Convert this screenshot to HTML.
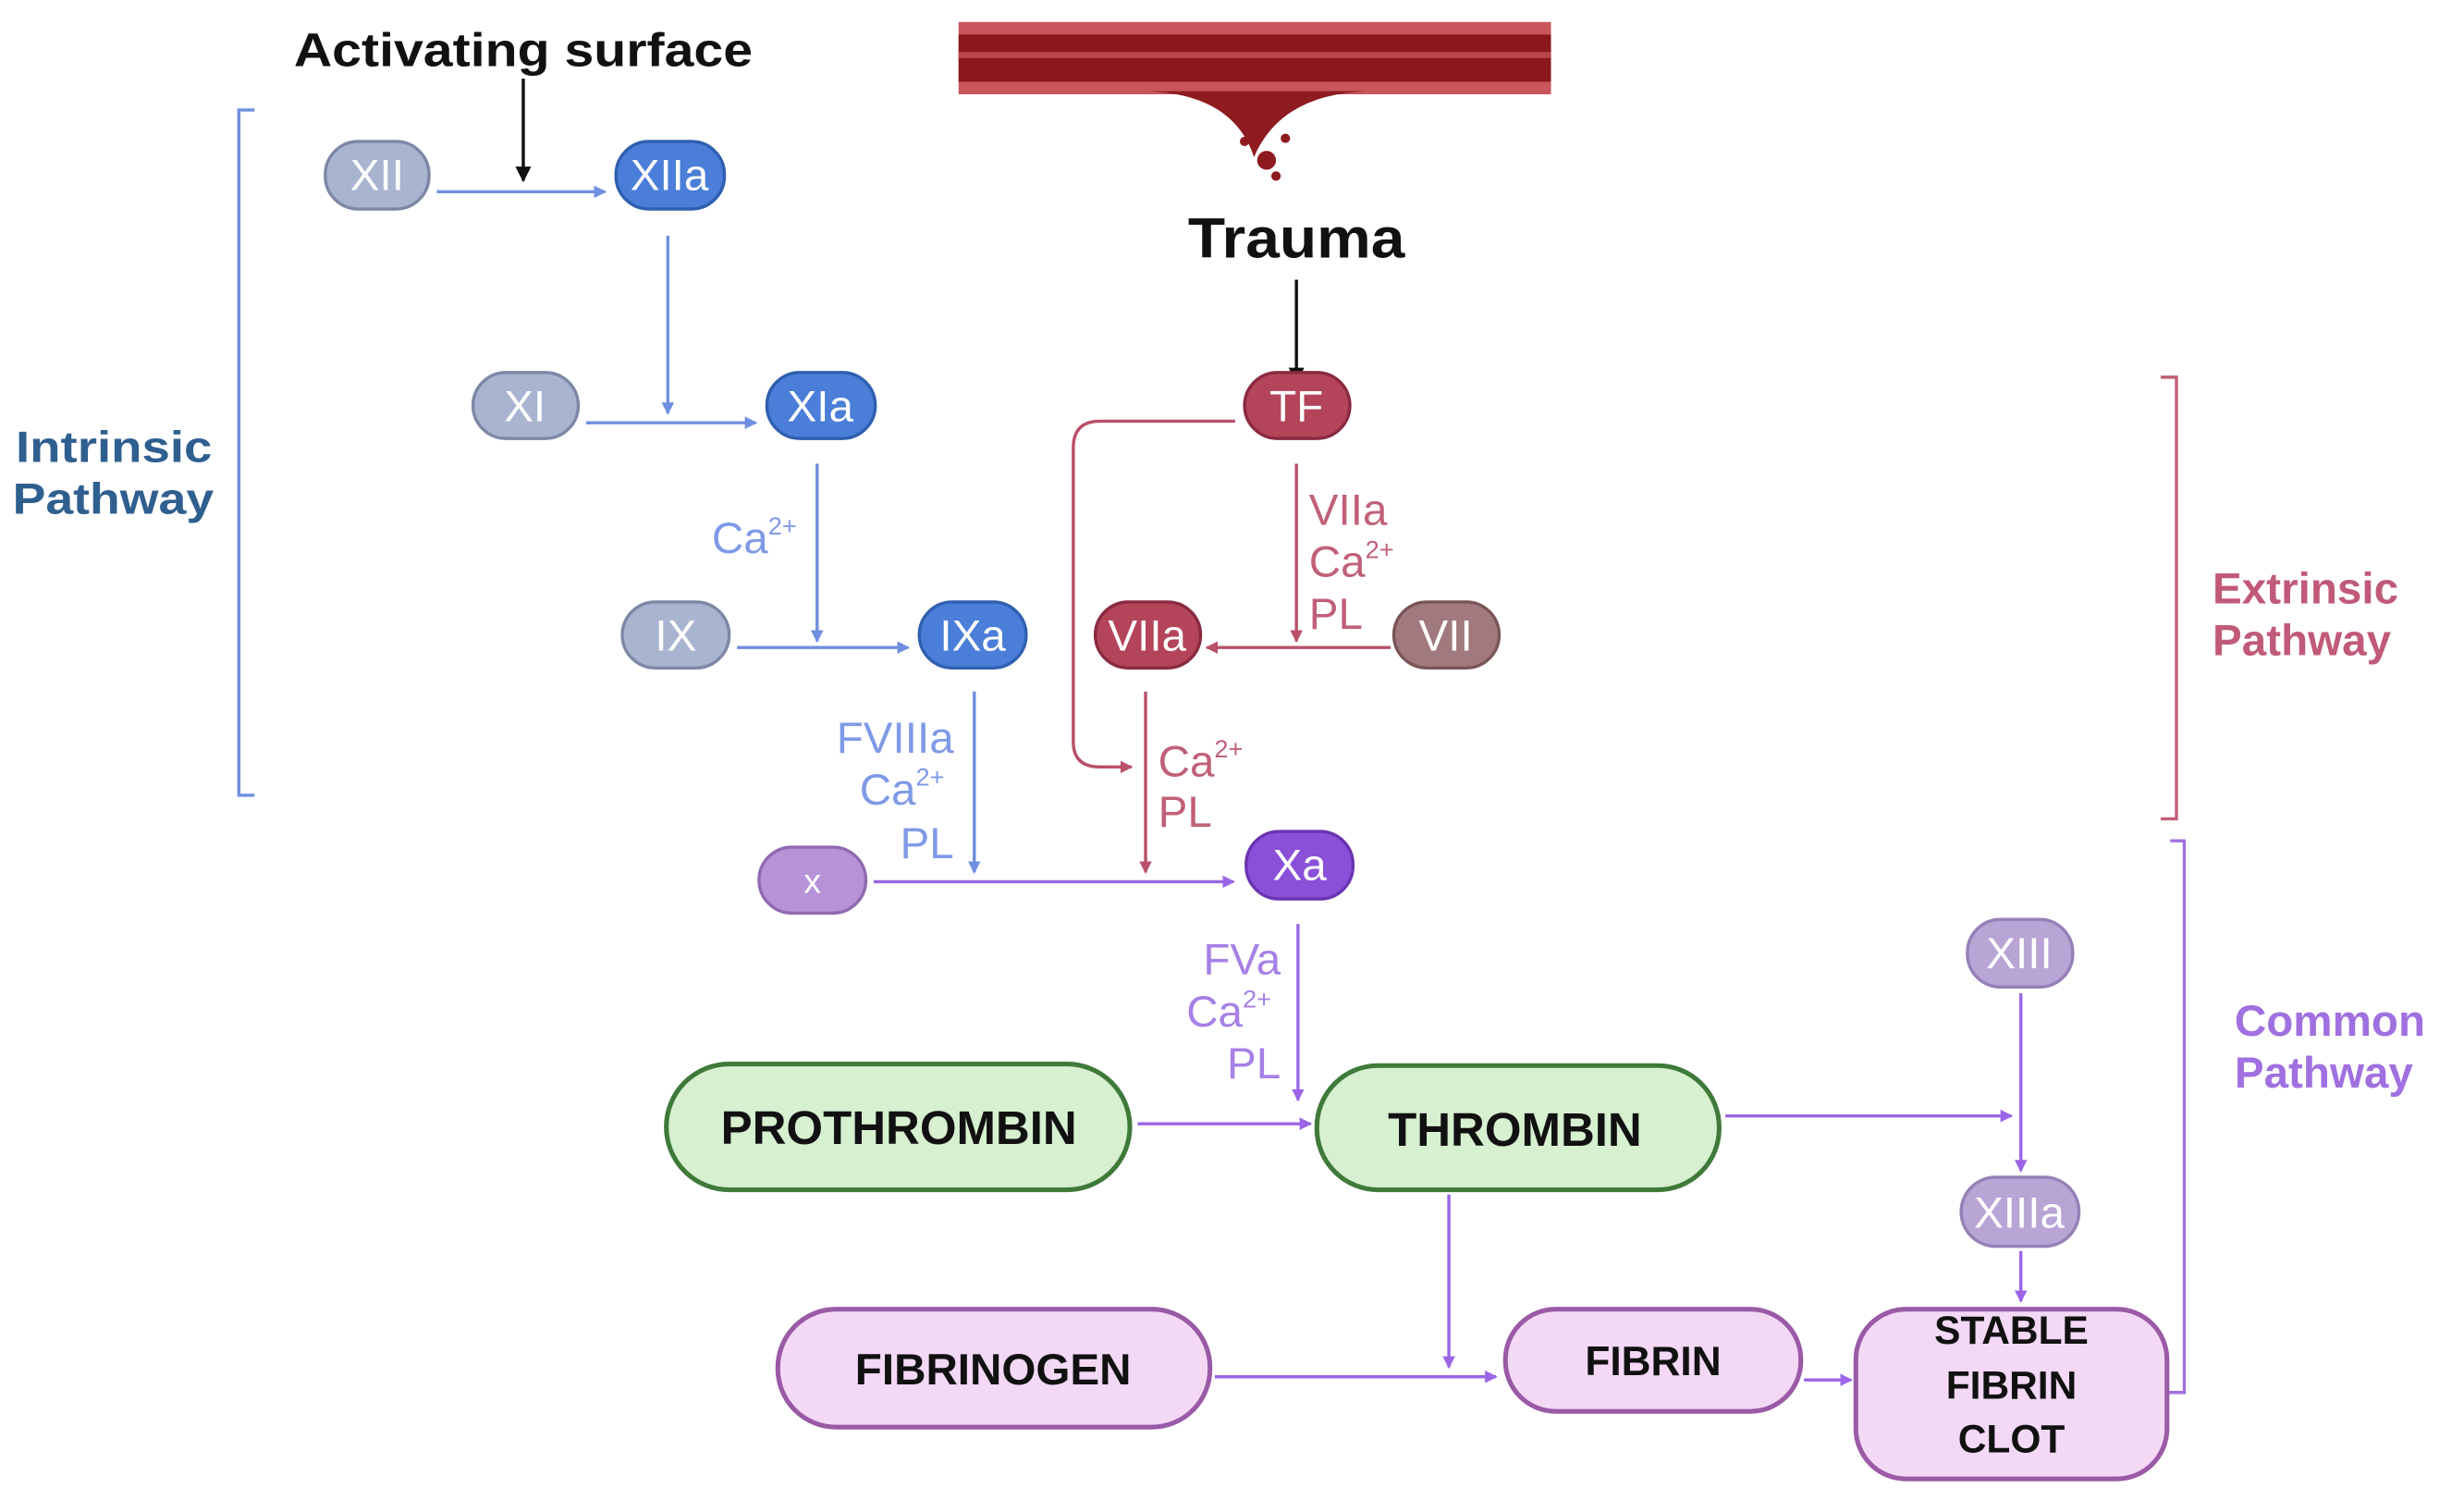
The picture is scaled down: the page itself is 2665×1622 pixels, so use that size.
<!DOCTYPE html>
<html><head><meta charset="utf-8"><style>
html,body{margin:0;padding:0;background:#fff;}
svg{display:block;}
text{font-family:"Liberation Sans",sans-serif;}
</style></head><body>
<svg width="2665" height="1622" viewBox="0 0 1568 954.4" preserveAspectRatio="none" xmlns="http://www.w3.org/2000/svg">
<defs>
<marker id="ab" markerWidth="8" markerHeight="8" refX="7" refY="4" orient="auto" markerUnits="userSpaceOnUse"><path d="M0,0 L8,4 L0,8 Z" fill="#6f8fe0"/></marker>
<marker id="ar" markerWidth="8" markerHeight="8" refX="7" refY="4" orient="auto" markerUnits="userSpaceOnUse"><path d="M0,0 L8,4 L0,8 Z" fill="#b9506a"/></marker>
<marker id="ap" markerWidth="8" markerHeight="8" refX="7" refY="4" orient="auto" markerUnits="userSpaceOnUse"><path d="M0,0 L8,4 L0,8 Z" fill="#9a66e6"/></marker>
<marker id="ak" markerWidth="10" markerHeight="10" refX="9" refY="5" orient="auto" markerUnits="userSpaceOnUse"><path d="M0,0 L10,5 L0,10 Z" fill="#111"/></marker>
</defs>

<!-- vessel -->
<rect x="610" y="14" width="377" height="46" fill="#c9555d"/>
<rect x="610" y="22" width="377" height="30" fill="#8a181d"/>
<rect x="610" y="33" width="377" height="4" fill="#b8454c"/>
<path d="M730,58 Q785,60 798,100 Q815,60 870,58 Z" fill="#8e1b20"/>
<circle cx="806" cy="102" r="6" fill="#8e1b20"/><circle cx="792" cy="90" r="3" fill="#8e1b20"/><circle cx="818" cy="88" r="3" fill="#8e1b20"/><circle cx="812" cy="112" r="3" fill="#8e1b20"/>

<text x="333" y="42" font-size="30" font-weight="bold" text-anchor="middle" fill="#111" textLength="292" lengthAdjust="spacingAndGlyphs">Activating surface</text>
<line x1="333" y1="50" x2="333" y2="115" stroke="#111" stroke-width="2" marker-end="url(#ak)"/>
<text x="825" y="164" font-size="36" font-weight="bold" text-anchor="middle" fill="#111" textLength="138" lengthAdjust="spacingAndGlyphs">Trauma</text>
<line x1="825" y1="178" x2="825" y2="243" stroke="#111" stroke-width="2" marker-end="url(#ak)"/>

<!-- brackets -->
<path d="M162,70 H152 V506 H162" fill="none" stroke="#6f8fe0" stroke-width="2"/>
<text x="10" y="294" font-size="28" font-weight="bold" fill="#2f5f8f" textLength="125" lengthAdjust="spacingAndGlyphs">Intrinsic</text>
<text x="8" y="327" font-size="28" font-weight="bold" fill="#2f5f8f" textLength="128" lengthAdjust="spacingAndGlyphs">Pathway</text>
<path d="M1375,240 H1385 V521 H1375" fill="none" stroke="#c06078" stroke-width="2"/>
<text x="1408" y="384" font-size="28" font-weight="bold" fill="#c05a78">Extrinsic</text>
<text x="1408" y="417" font-size="28" font-weight="bold" fill="#c05a78">Pathway</text>
<path d="M1381,535 H1390 V886 H1379" fill="none" stroke="#a070e0" stroke-width="2"/>
<text x="1422" y="659" font-size="28" font-weight="bold" fill="#a070e0">Common</text>
<text x="1422" y="692" font-size="28" font-weight="bold" fill="#a070e0">Pathway</text>

<!-- blue connectors -->
<g stroke="#6f8fe0" stroke-width="2" fill="none">
<line x1="278" y1="122" x2="385" y2="122" marker-end="url(#ab)"/>
<line x1="425" y1="150" x2="425" y2="263" marker-end="url(#ab)"/>
<line x1="373" y1="269" x2="481" y2="269" marker-end="url(#ab)"/>
<line x1="520" y1="295" x2="520" y2="408" marker-end="url(#ab)"/>
<line x1="469" y1="412" x2="578" y2="412" marker-end="url(#ab)"/>
<line x1="620" y1="440" x2="620" y2="555" marker-end="url(#ab)"/>
</g>
<g fill="#7f9ae6" font-size="28">
<text x="453" y="352">Ca<tspan font-size="16" dy="-12">2+</tspan></text>
<text x="607" y="479" text-anchor="end">FVIIIa</text>
<text x="547" y="512">Ca<tspan font-size="16" dy="-12">2+</tspan></text>
<text x="607" y="546" text-anchor="end">PL</text>
</g>

<!-- red connectors -->
<g stroke="#b9506a" stroke-width="2" fill="none">
<path d="M786,268 H700 Q683,268 683,285 V472 Q683,488 700,488 H720" marker-end="url(#ar)"/>
<line x1="825" y1="295" x2="825" y2="408" marker-end="url(#ar)"/>
<line x1="885" y1="412" x2="768" y2="412" marker-end="url(#ar)"/>
<line x1="729" y1="440" x2="729" y2="555" marker-end="url(#ar)"/>
</g>
<g fill="#c06078" font-size="28">
<text x="833" y="334">VIIa</text>
<text x="833" y="367">Ca<tspan font-size="16" dy="-12">2+</tspan></text>
<text x="833" y="400">PL</text>
<text x="737" y="494">Ca<tspan font-size="16" dy="-12">2+</tspan></text>
<text x="737" y="526">PL</text>
</g>

<!-- purple connectors -->
<g stroke="#9a66e6" stroke-width="2" fill="none">
<line x1="556" y1="561" x2="785" y2="561" marker-end="url(#ap)"/>
<line x1="826" y1="588" x2="826" y2="700" marker-end="url(#ap)"/>
<line x1="724" y1="715" x2="834" y2="715" marker-end="url(#ap)"/>
<line x1="1098" y1="710" x2="1280" y2="710" marker-end="url(#ap)"/>
<line x1="1286" y1="632" x2="1286" y2="745" marker-end="url(#ap)"/>
<line x1="922" y1="760" x2="922" y2="870" marker-end="url(#ap)"/>
<line x1="773" y1="876" x2="952" y2="876" marker-end="url(#ap)"/>
<line x1="1148" y1="878" x2="1178" y2="878" marker-end="url(#ap)"/>
<line x1="1286" y1="796" x2="1286" y2="828" marker-end="url(#ap)"/>
</g>
<g fill="#a680e6" font-size="28">
<text x="815" y="620" text-anchor="end">FVa</text>
<text x="755" y="653">Ca<tspan font-size="16" dy="-12">2+</tspan></text>
<text x="815" y="686" text-anchor="end">PL</text>
</g>

<!-- small pills -->
<g stroke-width="2" font-size="28" text-anchor="middle">
<rect x="207" y="90" width="66" height="43" rx="21" fill="#a9b4d0" stroke="#7d88a6"/><text x="240" y="121" fill="#fff">XII</text>
<rect x="392" y="90" width="69" height="43" rx="21" fill="#4a7ed8" stroke="#2f5fb0"/><text x="426" y="121" fill="#fff">XIIa</text>
<rect x="301" y="237" width="67" height="42" rx="21" fill="#a9b4d0" stroke="#7d88a6"/><text x="334" y="268" fill="#fff">XI</text>
<rect x="488" y="237" width="69" height="42" rx="21" fill="#4a7ed8" stroke="#2f5fb0"/><text x="522" y="268" fill="#fff">XIa</text>
<rect x="396" y="383" width="68" height="42" rx="21" fill="#a9b4d0" stroke="#7d88a6"/><text x="430" y="414" fill="#fff">IX</text>
<rect x="585" y="383" width="68" height="42" rx="21" fill="#4a7ed8" stroke="#2f5fb0"/><text x="619" y="414" fill="#fff">IXa</text>
<rect x="792" y="237" width="67" height="42" rx="21" fill="#b3445a" stroke="#8a2a40"/><text x="825" y="268" fill="#fff">TF</text>
<rect x="697" y="383" width="67" height="42" rx="21" fill="#b3445a" stroke="#8a2a40"/><text x="730" y="414" fill="#fff">VIIa</text>
<rect x="887" y="383" width="67" height="42" rx="21" fill="#a07a7e" stroke="#7a5558"/><text x="920" y="414" fill="#fff">VII</text>
<rect x="483" y="539" width="68" height="42" rx="21" fill="#b792d6" stroke="#8f6ab0"/><text x="517" y="568" fill="#fff" font-size="22">x</text>
<rect x="793" y="529" width="68" height="43" rx="21" fill="#8a50d8" stroke="#6a34b0"/><text x="827" y="560" fill="#fff">Xa</text>
<rect x="1252" y="585" width="67" height="43" rx="21" fill="#b9a4d6" stroke="#9480b6"/><text x="1285" y="616" fill="#fff">XIII</text>
<rect x="1248" y="749" width="75" height="44" rx="22" fill="#b9a4d6" stroke="#9480b6"/><text x="1285" y="781" fill="#fff">XIIIa</text>
</g>

<!-- big pills -->
<g stroke-width="3" font-weight="bold" text-anchor="middle" fill="#111">
<rect x="424" y="677" width="295" height="80" rx="40" fill="#d6f0d0" stroke="#3f7a3a"/>
<rect x="838" y="678" width="256" height="79" rx="39" fill="#d6f0d0" stroke="#3f7a3a"/>
<rect x="495" y="833" width="275" height="75" rx="37" fill="#f3d9f6" stroke="#9a5aa6"/>
<rect x="958" y="833" width="188" height="65" rx="32" fill="#f3d9f6" stroke="#9a5aa6"/>
<rect x="1181" y="833" width="198" height="108" rx="32" fill="#f3d9f6" stroke="#9a5aa6"/>
</g>
<g font-weight="bold" text-anchor="middle" fill="#111">
<text x="572" y="728" font-size="30">PROTHROMBIN</text>
<text x="964" y="729" font-size="30">THROMBIN</text>
<text x="632" y="881" font-size="28">FIBRINOGEN</text>
<text x="1052" y="875" font-size="26">FIBRIN</text>
<text x="1280" y="855" font-size="25">STABLE</text>
<text x="1280" y="890" font-size="25">FIBRIN</text>
<text x="1280" y="924" font-size="25">CLOT</text>
</g>
</svg>
</body></html>
